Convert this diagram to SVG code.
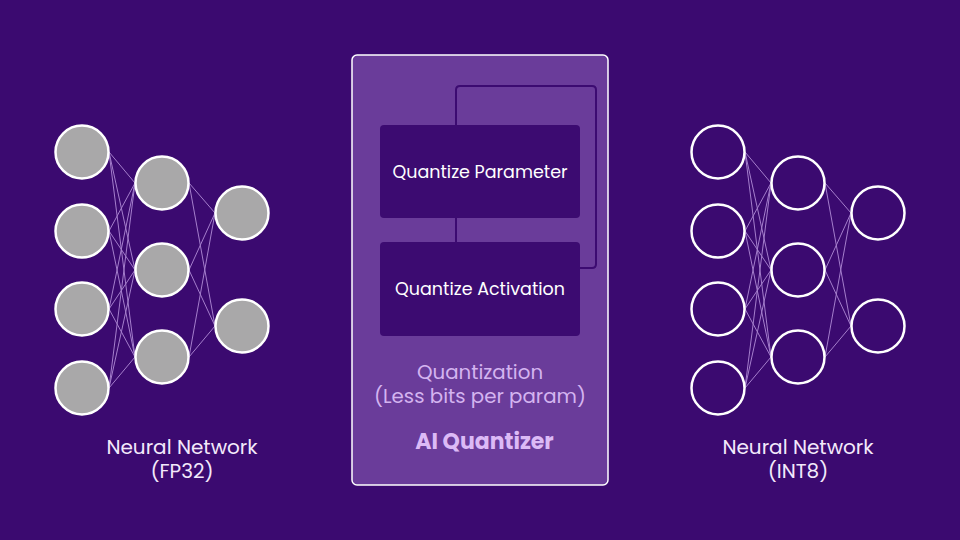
<svg xmlns="http://www.w3.org/2000/svg" width="960" height="540" viewBox="0 0 960 540">
<style>
.bg{fill:#3b0a70}
.nf{fill:#a9a8a9;stroke:#ffffff;stroke-width:2.5}
.ne{fill:none;stroke:#ffffff;stroke-width:2.5}
.edge{stroke:#c9a6ec;stroke-width:1;opacity:0.75}
.lbl{font-family:"Poppins","Open Sans","Liberation Sans",sans-serif;font-size:20px;fill:#f3e9fb;text-anchor:middle}
.box{fill:#3c0b71;}
.btxt{font-family:"Poppins","Open Sans","Liberation Sans",sans-serif;font-size:17.5px;fill:#ffffff;text-anchor:middle}
.qtxt{font-family:"Poppins","Open Sans","Liberation Sans",sans-serif;font-size:19.8px;fill:#d4b4f0;text-anchor:middle}
.conn{fill:none;stroke:#3c0b71;stroke-width:2}
</style>
<rect class="bg" x="0" y="0" width="960" height="540"/>

<g id="nn-fp32">
  <path class="edge" d="M109 152L135 183M109 152L135 270M109 152L135 357
M109 231L135 183M109 231L135 270M109 231L135 357
M109 309L135 183M109 309L135 270M109 309L135 357
M109 388L135 183M109 388L135 270M109 388L135 357
M189 183L215 213M189 183L215 326
M189 270L215 213M189 270L215 326
M189 357L215 213M189 357L215 326"/>
  <circle class="nf" cx="82" cy="152" r="26.5"/>
  <circle class="nf" cx="82" cy="231" r="26.5"/>
  <circle class="nf" cx="82" cy="309" r="26.5"/>
  <circle class="nf" cx="82" cy="388" r="26.5"/>
  <circle class="nf" cx="162" cy="183" r="26.5"/>
  <circle class="nf" cx="162" cy="270" r="26.5"/>
  <circle class="nf" cx="162" cy="357" r="26.5"/>
  <circle class="nf" cx="242" cy="213" r="26.5"/>
  <circle class="nf" cx="242" cy="326" r="26.5"/>
  <text class="lbl" x="182" y="454">Neural Network</text>
  <text class="lbl" x="182" y="478">(FP32)</text>
</g>

<g id="nn-int8">
  <path class="edge" d="M745 152L771 183M745 152L771 270M745 152L771 357
M745 231L771 183M745 231L771 270M745 231L771 357
M745 309L771 183M745 309L771 270M745 309L771 357
M745 388L771 183M745 388L771 270M745 388L771 357
M825 183L851 213M825 183L851 326
M825 270L851 213M825 270L851 326
M825 357L851 213M825 357L851 326"/>
  <circle class="ne" cx="718" cy="152" r="26.5"/>
  <circle class="ne" cx="718" cy="231" r="26.5"/>
  <circle class="ne" cx="718" cy="309" r="26.5"/>
  <circle class="ne" cx="718" cy="388" r="26.5"/>
  <circle class="ne" cx="798" cy="183" r="26.5"/>
  <circle class="ne" cx="798" cy="270" r="26.5"/>
  <circle class="ne" cx="798" cy="357" r="26.5"/>
  <circle class="ne" cx="878" cy="213" r="26.5"/>
  <circle class="ne" cx="878" cy="326" r="26.5"/>
  <text class="lbl" x="798" y="454">Neural Network</text>
  <text class="lbl" x="798" y="478">(INT8)</text>
</g>

<g id="ai-quantizer">
  <rect x="352" y="55" width="256" height="430" rx="5" fill="#6a3c9a" stroke="#ffffff" stroke-width="1.5"/>
  <text class="qtxt" x="480" y="379">Quantization</text>
  <text class="qtxt" x="480" y="403">(Less bits per param)</text>
  <text class="qtxt" x="484.5" y="449" style="font-weight:700;font-size:22px;fill:#dcbaf6">AI Quantizer</text>
</g>

<g id="connectors">
  <path id="loop" class="conn" d="M456 125V90Q456 86 460 86H592Q596 86 596 90V264Q596 268 592 268H580"/>
  <path id="link" class="conn" d="M456 218V242"/>
</g>

<g id="quantize-parameter">
  <rect class="box" x="380" y="125" width="200" height="93" rx="4"/>
  <text class="btxt" x="480" y="178">Quantize Parameter</text>
</g>

<g id="quantize-activation">
  <rect class="box" x="380" y="242" width="200" height="94" rx="4"/>
  <text class="btxt" x="480" y="295">Quantize Activation</text>
</g>
</svg>
